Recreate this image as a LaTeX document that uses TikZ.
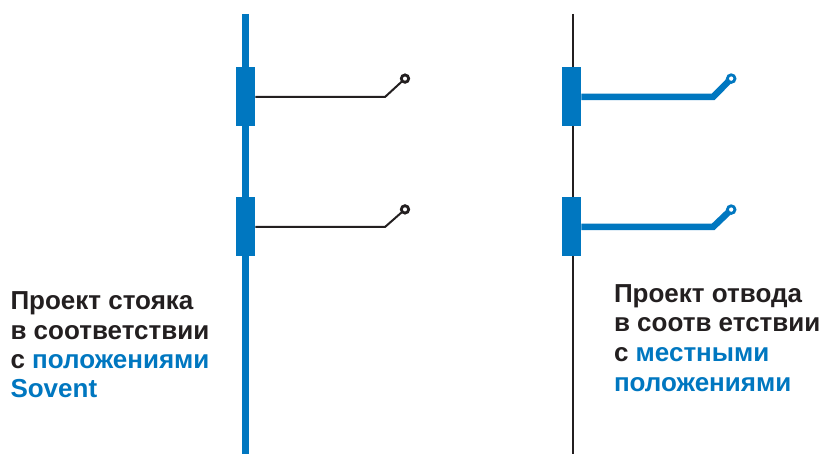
\documentclass[tikz,border=0pt]{standalone}
\usepackage{fontspec}
\setmainfont{Liberation Sans}
\definecolor{sblue}{HTML}{0077C0}
\definecolor{sink}{HTML}{231F20}
\tikzset{
  thinpipe/.style={draw=sink,line width=2pt,line join=miter},
  thickpipe/.style={draw=sblue,line width=6.5pt,line join=miter},
  fitting/.style={fill=sblue,draw=none,minimum width=19.5pt,minimum height=59pt,inner sep=0pt,outer sep=0pt},
  tipdark/.style={circle,draw=sink,fill=white,line width=2.8pt,minimum size=7.4pt,inner sep=0pt,outer sep=0pt},
  tipblue/.style={circle,draw=sblue,fill=white,line width=2.8pt,minimum size=7.6pt,inner sep=0pt,outer sep=0pt},
  lbl/.style={anchor=base west,inner sep=0pt,outer sep=0pt,font=\bfseries\fontsize{26}{29}\selectfont,text=sink},
}
\begin{document}
\begin{tikzpicture}[x=1pt,y=-1pt]
\useasboundingbox[fill=white] (0,0) rectangle (822,454);
% coordinates of riser ends and branch kinks
\coordinate (lt) at (245.5,14);
\coordinate (lb) at (245.5,454);
\coordinate (rt) at (572.5,14);
\coordinate (rb) at (572.5,454);
\coordinate (k1) at (385,97);
\coordinate (k2) at (385,227);
\coordinate (k3) at (713,97);
\coordinate (k4) at (713,227);
% risers
\draw[thickpipe] (lt) -- (lb);
\draw[thinpipe] (rt) -- (rb);
% fittings
\node[fitting] (f1) at (245.5,96.5) {};
\node[fitting] (f2) at (245.5,226.5) {};
\node[fitting] (f3) at (571.5,96.5) {};
\node[fitting] (f4) at (571.5,226.5) {};
% tips
\node[tipdark] (t1) at (405,78.6) {};
\node[tipdark] (t2) at (405,209.4) {};
\node[tipblue] (t3) at (731.2,78.6) {};
\node[tipblue] (t4) at (731.2,209.6) {};
% branches
\draw[thinpipe] (f1.east |- k1) -- (k1) -- (t1);
\draw[thinpipe] (f2.east |- k2) -- (k2) -- (t2);
\draw[thickpipe] (f3.east |- k3) -- (k3) -- (t3);
\draw[thickpipe] (f4.east |- k4) -- (k4) -- (t4);
% labels
\node[lbl] (a1) at (10.5,309) {Проект стояка};
\node[lbl] (a2) at (10.5,339) {в соответствии};
\node[lbl] (a3) at (10.5,368) {с \textcolor{sblue}{положениями}};
\node[lbl,text=sblue] (a4) at (10.5,397) {Sovent};
\node[lbl] (b1) at (614,303) {Проект отвода};
\node[lbl] (b2) at (614,332) {в соотв етствии};
\node[lbl] (b3) at (614,362) {с \textcolor{sblue}{местными}};
\node[lbl,text=sblue] (b4) at (614,391) {положениями};
\end{tikzpicture}
\end{document}
